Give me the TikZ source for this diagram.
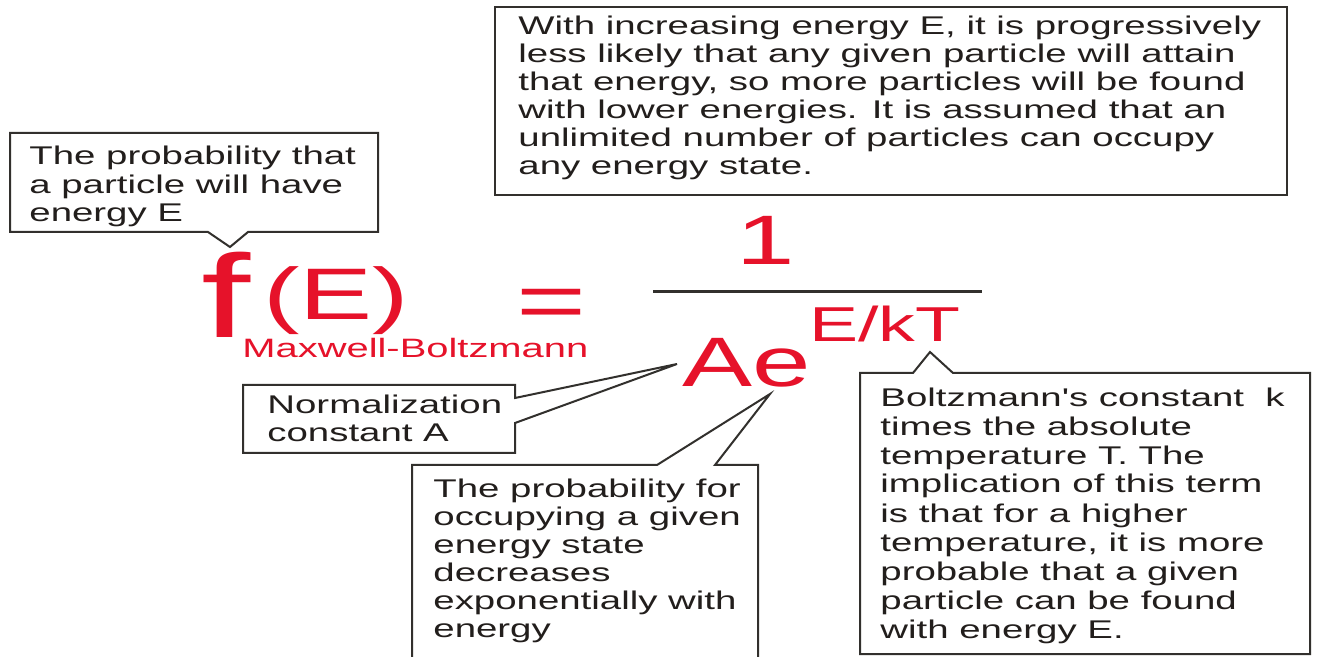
\documentclass[tikz,border=0pt]{standalone}
\usepackage{fontspec}
\setmainfont{Liberation Sans}[FakeStretch=1.5,Ligatures=TeXOff]
\definecolor{eqred}{RGB}{230,18,42}
\definecolor{ink}{RGB}{34,30,28}
\definecolor{frame}{RGB}{50,48,45}
\begin{document}
\begin{tikzpicture}[x=0.5pt,y=-0.5pt,
  callout/.style={draw=frame,line width=1pt,fill=white,line join=miter},
  body/.style={anchor=base west,inner sep=0pt,align=left,text=ink,font=\fontsize{12.8}{14}\selectfont},
  bodywide/.style={body,font=\fontsize{12.8}{14.5}\selectfont},
  eqtext/.style={anchor=base west,inner sep=0pt,text=eqred}]
\useasboundingbox (0,0) rectangle (1317,657);
\fill[white] (0,0) rectangle (1317,657);

% callout frames
\draw[callout] (10,133) -- (378,133) -- (378,232) -- (248,232) -- (230,247) -- (208,232) -- (10,232) -- cycle;
\draw[callout] (495,7) rectangle (1287,195);
\draw[callout] (243,385) -- (515,385) -- (515,398) -- (677,364) -- (515,423) -- (515,453) -- (243,453) -- cycle;
\draw[callout] (412,657) -- (412,465) -- (657,465) -- (770,394) -- (715,465) -- (758,465) -- (758,657);
\draw[callout] (860,373) -- (913,373) -- (930,352) -- (953,373) -- (1310,373) -- (1310,654) -- (860,654) -- cycle;

% callout texts (anchored at the baseline of their last line)
\node[body,font=\fontsize{12.8}{14.25}\selectfont] (prob) at (29,222) {The probability that\\a particle will have\\energy E};
\node[body] (incr) at (518,175) {With increasing energy E, it is progressively\\less likely that any given particle will attain\\that energy, so more particles will be found\\with lower energies. It is assumed that an\\unlimited number of particles can occupy\\any energy state.};
\node[body] (norm) at (267,442) {Normalization\\constant A};
\node[body] (expo) at (433,637) {The probability for\\occupying a given\\energy state\\decreases\\exponentially with\\energy};
\node[bodywide] (kT) at (880,638) {Boltzmann's constant\ \ k\\times the absolute\\temperature T. The\\implication of this term\\is that for a higher\\temperature, it is more\\probable that a given\\particle can be found\\with energy E.};

% equation
\node[eqtext,font=\fontsize{59}{59}\selectfont] (f) at (201,338) {f};
\node[eqtext,font=\fontsize{36.5}{36.5}\selectfont] (argE) at (263,320) {(E)};
\node[eqtext,font=\fontsize{13.3}{14}\selectfont] (mb) at (242,358) {Maxwell-Boltzmann};
\node[eqtext,font=\fontsize{40}{40}\selectfont] (eq) at (516,329) {=};
\node[eqtext,font=\fontsize{35}{35}\selectfont] (one) at (736,265) {1};
\draw[frame,line width=1.5pt] (653,292) coordinate (barL) -- (982,292) coordinate (barR);
\node[eqtext,font=\fontsize{35}{35}\selectfont] (Ae) at (682,387) {Ae};
\node[eqtext,font=\fontsize{24.5}{24.5}\selectfont] (ekt) at (809,342) {E/kT};
\end{tikzpicture}
\end{document}
